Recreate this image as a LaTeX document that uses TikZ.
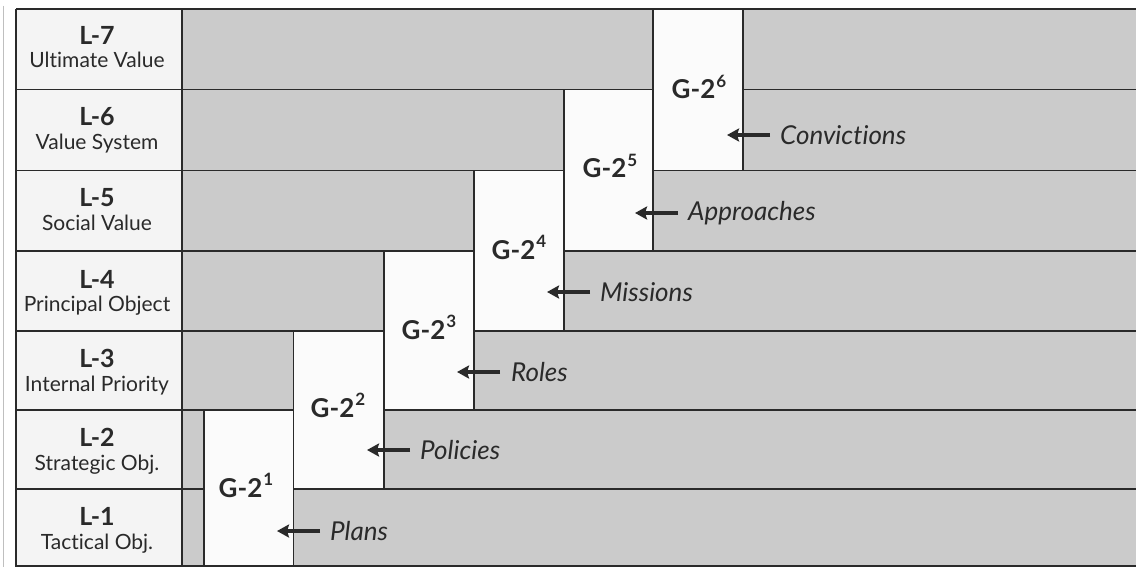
\documentclass[tikz,border=0pt]{standalone}
\usepackage{fontspec}
\setmainfont{Lato}[Ligatures=NoCommon]
\usetikzlibrary{arrows.meta}
\definecolor{halft}{HTML}{CBCBCB}
\definecolor{ink}{HTML}{2A2A2A}
\definecolor{colfill}{HTML}{F4F4F4}
\definecolor{boxfill}{HTML}{FBFBFB}
\tikzset{
  gridline/.style={draw=ink, line width=1.8pt},
  gbox/.style={fill=boxfill, draw=ink, line width=1.6pt},
  levnum/.style={anchor=base, inner sep=0pt, font=\fontsize{25}{25}\selectfont\bfseries, text=ink},
  levtxt/.style={anchor=base, inner sep=0pt, font=\fontsize{21}{21}\selectfont, text=ink},
  glab/.style={anchor=base, inner sep=0pt, font=\fontsize{26}{26}\selectfont\bfseries, text=ink},
  itlab/.style={anchor=west, inner sep=0pt, font=\fontsize{26}{26}\selectfont\itshape, text=ink},
  arr/.style={draw=ink, line width=3.4pt, -{Stealth[length=12pt,width=13pt,inset=2pt]}},
}
\newcommand{\gsup}[1]{\kern1pt\raisebox{11.5pt}{\fontsize{17}{17}\selectfont #1}}
\begin{document}
\begin{tikzpicture}[x=1pt,y=-1pt]
\useasboundingbox (0,0) rectangle (1136,567);
\clip (0,0) rectangle (1136,567);
\fill[white] (0,0) rectangle (1136,567);
\draw[black!25, line width=0.8pt] (3,6) -- (3,570);
\fill[halft] (16,9) rectangle (1140,570);
\fill[colfill] (16,9) rectangle (182,570);
% row boundaries
\foreach \y in {9,89.5,170.5,251,331,410,489,566}
  \draw[gridline] (16,\y) -- (1140,\y);
\draw[gridline] (16,9) -- (16,570);
\draw[gridline] (182,9) -- (182,570);
% white steps
\filldraw[gbox] (204,410) rectangle (293.5,570);
\filldraw[gbox] (293.5,331) rectangle (384,489);
\filldraw[gbox] (384,251) rectangle (474,410);
\filldraw[gbox] (474,170.5) rectangle (564,331);
\filldraw[gbox] (564,89.5) rectangle (653,251);
\filldraw[gbox] (653,9) rectangle (743,170.5);
\draw[gridline] (16,566) -- (1140,566);
% level labels
\node[levnum] (n7) at (97,45) {L-7};
\node[levtxt] (t7) at (97,68) {Ultimate Value};
\node[levnum] (n6) at (97,126) {L-6};
\node[levtxt] (t6) at (97,149.5) {Value System};
\node[levnum] (n5) at (97,207) {L-5};
\node[levtxt] (t5) at (97,230.5) {Social Value};
\node[levnum] (n4) at (97,288) {L-4};
\node[levtxt] (t4) at (97,311.5) {Principal Object};
\node[levnum] (n3) at (97,367.5) {L-3};
\node[levtxt] (t3) at (97,391) {Internal Priority};
\node[levnum] (n2) at (97,446.5) {L-2};
\node[levtxt] (t2) at (97,470) {Strategic Obj.};
\node[levnum] (n1) at (97,525.5) {L-1};
\node[levtxt] (t1) at (97,549) {Tactical Obj.};
% G labels
\node[glab] (g1) at (246,497) {G-2\gsup{1}};
\node[glab] (g2) at (338,417) {G-2\gsup{2}};
\node[glab] (g3) at (429,339) {G-2\gsup{3}};
\node[glab] (g4) at (519,259) {G-2\gsup{4}};
\node[glab] (g5) at (610,178) {G-2\gsup{5}};
\node[glab] (g6) at (699,99) {G-2\gsup{6}};
% arrows and italic labels
\coordinate (a1t) at (320,531); \coordinate (a1h) at (277,531);
\coordinate (a2t) at (410,450); \coordinate (a2h) at (367,450);
\coordinate (a3t) at (500,372); \coordinate (a3h) at (457,372);
\coordinate (a4t) at (590,292); \coordinate (a4h) at (547,292);
\coordinate (a5t) at (678,213); \coordinate (a5h) at (635,213);
\coordinate (a6t) at (770,135); \coordinate (a6h) at (727,135);
\draw[arr] (a1t) -- (a1h);
\draw[arr] (a2t) -- (a2h);
\draw[arr] (a3t) -- (a3h);
\draw[arr] (a4t) -- (a4h);
\draw[arr] (a5t) -- (a5h);
\draw[arr] (a6t) -- (a6h);
\node[itlab] (p1) at (330,531) {Plans};
\node[itlab] (p2) at (420,450) {Policies};
\node[itlab] (p3) at (511,372) {Roles};
\node[itlab] (p4) at (600,292) {Missions};
\node[itlab] (p5) at (688,213) {Approaches};
\node[itlab] (p6) at (780,135) {Convictions};
\end{tikzpicture}
\end{document}
